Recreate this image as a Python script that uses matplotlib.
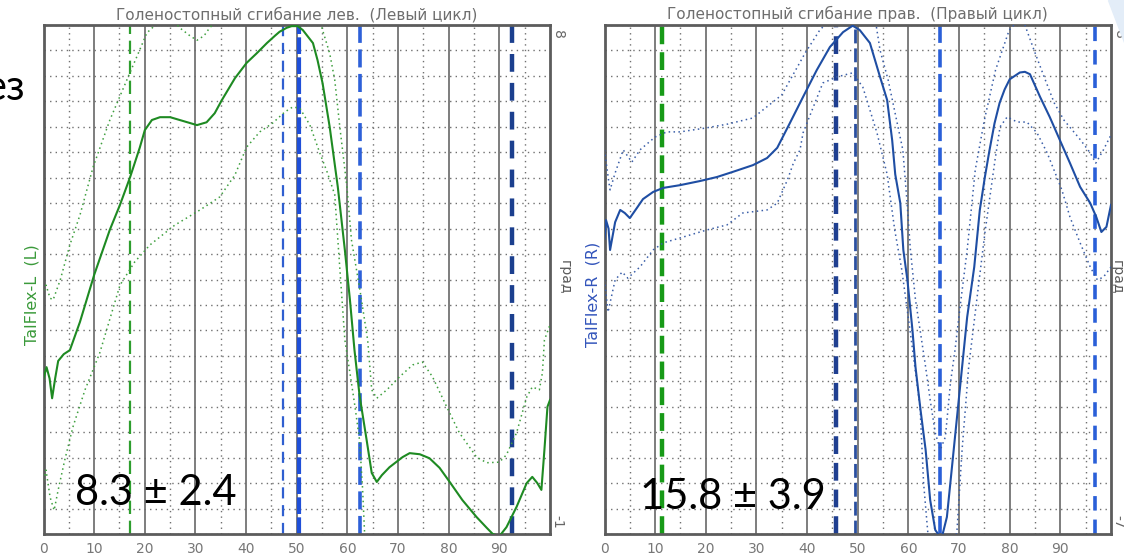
import matplotlib
matplotlib.use("Agg")
import matplotlib.pyplot as plt
import numpy as np

# ---- left (L) ankle flexion curve: mean and +/- SD -------------------------------
left_mean_x = [0, 0.6, 1.2, 1.7, 2.3, 2.9, 4.0, 5.2, 7.2, 10, 13.1, 15.1, 17.1, 19.0, 20.0, 21.4,
               23, 25, 26.9, 30.3, 32.2, 33.8, 35.2, 37.8, 40.1, 42.1, 44.1, 45.7, 46.6, 48.0,
               49.0, 50.2, 51.2, 53.2, 54.1, 55.1, 56.5, 58.1, 59.5, 60.5, 61.4, 62.4, 63.8,
               64.8, 65.8, 66.8, 68.3, 70.9, 72.3, 74.3, 76.2, 78.2, 80.2, 82.7, 85.5, 87.5,
               88.7, 90.0, 91.4, 93.4, 95.4, 96.5, 97.5, 98.3, 98.9, 99.5, 100]
left_mean_y = [1.75, 1.95, 1.75, 1.40, 1.75, 2.06, 2.18, 2.25, 2.75, 3.58, 4.38, 4.82, 5.31, 5.83,
               6.14, 6.32, 6.37, 6.37, 6.32, 6.23, 6.28, 6.44, 6.67, 7.06, 7.33, 7.50, 7.68, 7.81,
               7.88, 7.95, 7.98, 7.98, 7.91, 7.68, 7.38, 6.97, 6.20, 5.14, 4.02, 3.14, 2.25, 1.45,
               0.66, 0.08, -0.08, 0.04, 0.18, 0.36, 0.43, 0.41, 0.34, 0.17, -0.08, -0.40, -0.70,
               -0.89, -1.0, -1.04, -0.88, -0.52, -0.10, 0.01, -0.10, -0.22, 0.49, 1.25, 1.37]

left_upper_x = [0, 0.5, 1.3, 1.9, 3.3, 5.2, 7.2, 9.8, 13.1, 16.7, 19.0, 20.4, 21.6, 23, 25, 26.9,
                28.9, 30.3, 31.7, 32.8, 34.4, 40, 45, 50, 53, 55.1, 56.5, 57.5, 58.5, 59.9, 60.8,
                62.5, 64.0, 64.8, 65.8, 67.8, 70.3, 72.9, 74.8, 76.8, 79.6, 82.1, 85.5, 87.5,
                90.0, 91.4, 93.4, 95.4, 96.5, 97.9, 98.5, 98.9, 100]
left_upper_y = [3.31, 3.40, 3.17, 3.14, 3.49, 4.11, 4.64, 5.49, 6.32, 7.08, 7.56, 7.86, 7.96, 8.12,
                8.14, 7.95, 7.81, 7.73, 7.81, 7.95, 8.09, 8.9, 9.3, 9.4, 8.6, 7.91, 7.50, 7.03,
                6.20, 5.14, 4.20, 3.30, 2.43, 1.55, 1.40, 1.55, 1.78, 1.99, 2.04, 1.78, 1.25,
                0.79, 0.36, 0.26, 0.27, 0.40, 0.79, 1.42, 1.60, 1.55, 1.85, 2.43, 2.7]

left_lower_x = [0, 0.5, 1.3, 2.1, 2.9, 4.2, 5.8, 8.2, 11.1, 15.1, 18.0, 21.0, 25.9, 30.9, 34.8,
                37.8, 40.1, 42.7, 45.3, 47.6, 49.2, 50.6, 52.6, 54.5, 56.0, 57.5, 58.5, 59.5,
                60.5, 61.5, 62.4, 63.0, 63.4, 64, 70, 80, 90, 96, 100]
left_lower_y = [-0.05, 0.13, -0.35, -0.58, -0.22, 0.31, 0.89, 1.55, 2.20, 3.40, 3.81, 4.11, 4.46,
                4.73, 4.96, 5.35, 5.84, 6.11, 6.27, 6.46, 6.55, 6.53, 6.23, 5.75, 5.40, 5.00, 3.70,
                2.43, 1.85, 1.25, 0.66, -0.20, -1.0, -1.6, -2.0, -1.8, -2.4, -2.0, -1.3]

# ---- right (R) ankle flexion curve ------------------------------------------------
right_mean_x = [0, 0.3, 0.8, 1.1, 2.1, 3.1, 4.0, 5.0, 6.4, 7.6, 9.6, 11.6, 14.9, 18.8, 22.2,
                25.3, 29.3, 32.1, 34.1, 36.6, 39.2, 41.9, 44.5, 47.1, 49.0, 50.4, 52.4, 54.4,
                55.8, 56.8, 57.4, 58.4, 59.0, 59.8, 60.8, 61.4, 62.4, 63.4, 64.3, 65.3, 66.0,
                66.6, 67.6, 68.6, 69.6, 70.6, 71.6, 73.0, 74.1, 75.1, 76.0, 77.0, 78.0, 79.0,
                80.0, 82.0, 83.0, 84.0, 86.0, 87.9, 89.9, 91.9, 93.9, 95.9, 97.1, 98.1, 99.1, 100]
right_mean_y = [1.70, 2.25, 2.00, 1.37, 2.19, 2.55, 2.46, 2.31, 2.61, 2.87, 3.08, 3.20, 3.28, 3.40,
                3.52, 3.67, 3.87, 4.08, 4.38, 5.11, 5.88, 6.67, 7.35, 7.79, 7.98, 7.85, 7.47,
                6.47, 5.79, 4.60, 3.60, 2.75, 1.37, 0.49, -0.99, -2.08, -3.35, -4.52, -6.00,
                -6.88, -7.03, -7.10, -6.50, -5.03, -3.55, -2.08, -0.61, 0.87, 2.55, 3.52, 4.30,
                5.10, 5.70, 6.10, 6.40, 6.60, 6.62, 6.55, 5.88, 5.29, 4.61, 3.93, 3.23, 2.75,
                2.34, 1.90, 2.05, 2.70]

right_upper_x = [0, 0.8, 1.1, 2.1, 3.7, 5.4, 7.0, 10.0, 12.3, 14.9, 19.8, 24.3, 29.3, 35.0, 39.6,
                 42.5, 43.5, 47, 50, 53, 54.4, 56.0, 58.9, 59.7, 60.4, 61.4, 62.4, 63.4, 64.3,
                 65.3, 66.3, 67.3, 68.3, 69.2, 70.2, 71.6, 72.6, 73.2, 75.0, 77.2, 79.9, 81.5,
                 83.0, 84.8, 86.8, 88.8, 90.7, 94.0, 95.9, 97.0, 98.5, 100]
right_upper_y = [4.32, 3.43, 3.14, 3.64, 4.32, 3.96, 4.32, 4.70, 4.85, 4.85, 4.96, 5.08, 5.26, 5.94,
                 7.17, 7.85, 8.0, 9.0, 9.3, 8.6, 7.26, 6.38, 4.32, 2.84, 1.37, -0.10, -1.08, -2.08,
                 -3.05, -4.02, -4.52, -4.14, -2.55, -1.58, -0.31, 1.37, 2.84, 3.73, 5.20, 6.67,
                 7.85, 8.10, 8.0, 7.26, 6.47, 5.70, 5.20, 4.61, 4.23, 3.93, 4.32, 4.76]

right_lower_x = [0, 0.7, 2.1, 3.5, 4.6, 7.0, 9.6, 11.6, 15.5, 20.2, 24.2, 27.3, 32.1, 34.1, 36.1,
                 37.3, 38.6, 39.2, 43.1, 45.9, 49.0, 51.0, 53.8, 55.8, 57.3, 58.7, 60.5, 62.3,
                 63.0, 65, 67, 69.6, 70.6, 71.9, 73.5, 75.1, 77.1, 78.1, 79.5, 81.5, 83.4, 85.4,
                 87.4, 89.3, 90.3, 91.9, 93.9, 95.9, 97.3, 98.5, 100]
right_lower_y = [0.49, -0.46, 0.49, 0.72, 0.54, 0.87, 1.37, 1.58, 1.75, 1.96, 2.11, 2.46, 2.55,
                 2.75, 3.43, 3.93, 4.32, 4.82, 6.29, 6.47, 6.59, 6.17, 4.82, 3.60, 1.96, 0.78,
                 -1.20, -3.26, -5.5, -9.0, -9.5, -6.88, -4.52, -2.08, -0.10, 1.87, 4.02, 5.00,
                 5.29, 5.14, 5.14, 4.82, 4.23, 3.52, 3.14, 2.34, 1.58, 0.87, 0.49, 0.57, 0.87]

# gait events (% of cycle): position, colour, width, dash pattern
left_events = [(17.1, '#2e9e2e', 1.6, (6, 3)), (47.2, '#2f5fd0', 1.6, (5, 3)),
               (50.4, '#1f4fd8', 3.0, (4, 0.8)), (62.4, '#2d60d8', 2.6, (5, 1.8)),
               (92.4, '#1b3f8e', 3.2, (4, 2.5))]
right_events = [(11.4, '#179a17', 3.2, (4, 1.8)), (45.7, '#1f3f90', 3.2, (4, 2)),
                (49.4, '#2a4fa0', 2.0, (5, 1.8)), (66.2, '#2a5fd8', 2.6, (5, 1.8)),
                (96.9, '#2a5fd8', 2.6, (4, 2.5))]

x_ticks = [0, 10, 20, 30, 40, 50, 60, 70, 80, 90]


def setup_panel(ax, ymin, ymax, title, ylabel, ylabel_color, unit_x):
    ax.set_xlim(0, 100)
    ax.set_ylim(ymin, ymax)
    ax.set_xticks(x_ticks)
    ax.set_xticks(np.arange(5, 100, 10), minor=True)
    ax.set_yticks(np.linspace(ymin, ymax, 21))
    ax.set_yticklabels([])
    ax.tick_params(which='both', length=0)
    ax.tick_params(axis='x', labelsize=10, labelcolor='#777777', pad=6)
    ax.grid(which='major', axis='x', color='#5a5a5a', lw=1.1, ls='-')
    ax.grid(which='minor', axis='x', color='#707070', lw=1.0, ls=(0, (1, 3)))
    ax.grid(which='major', axis='y', color='#707070', lw=1.0, ls=(0, (1, 3)))
    ax.set_axisbelow(True)
    for sp in ax.spines.values():
        sp.set_color('#5c5c5c')
        sp.set_linewidth(2)
    ax.set_title(title, fontsize=11, color='#6e6e6e', pad=4)
    ax.text(-0.022, 0.47, ylabel, transform=ax.transAxes, rotation=90, color=ylabel_color,
            fontsize=11.5, ha='center', va='center')
    ax.text(1.015, 0.99, f'{ymax:g}', transform=ax.transAxes, rotation=-90, color='#666666',
            fontsize=10, ha='center', va='top')
    ax.text(1.015, 0.01, f'{ymin:g}', transform=ax.transAxes, rotation=-90, color='#666666',
            fontsize=10, ha='center', va='bottom')
    ax.text(unit_x, 0.505, 'град', transform=ax.transAxes, rotation=-90, color='#5a5a5a',
            fontsize=10, ha='center', va='center')


fig = plt.figure(figsize=(11.24, 5.58), dpi=100)
ax1 = fig.add_axes([43.5 / 1124, 24 / 558, 506.5 / 1124, 509 / 558])
ax2 = fig.add_axes([604.5 / 1124, 24 / 558, 506.5 / 1124, 509 / 558])

setup_panel(ax1, -1, 8, 'Голеностопный сгибание лев.  (Левый цикл)', 'TalFlex-L  (L)',
            '#3a9a3a', 1.03)
setup_panel(ax2, -7, 8, 'Голеностопный сгибание прав.  (Правый цикл)', 'TalFlex-R  (R)',
            '#3355bb', 1.012)

for x, c, w, d in left_events:
    ax1.axvline(x, color=c, lw=w, dashes=d, zorder=2)
for x, c, w, d in right_events:
    ax2.axvline(x, color=c, lw=w, dashes=d, zorder=2)

ax1.plot(left_upper_x, left_upper_y, color='#3f9f3f', lw=1.1, ls=(0, (1, 2.2)), zorder=3)
ax1.plot(left_lower_x, left_lower_y, color='#3f9f3f', lw=1.1, ls=(0, (1, 2.2)), zorder=3)
ax1.plot(left_mean_x, left_mean_y, color='#1e8a22', lw=1.5, zorder=4)

ax2.plot(right_upper_x, right_upper_y, color='#3a5ea8', lw=1.1, ls=(0, (1, 2.2)), zorder=3)
ax2.plot(right_lower_x, right_lower_y, color='#3a5ea8', lw=1.1, ls=(0, (1, 2.2)), zorder=3)
ax2.plot(right_mean_x, right_mean_y, color='#1f4ea3', lw=1.5, zorder=4)

# mean +/- SD annotations
fig.text(75 / 1124, 1 - 493 / 558, '8.3 ± 2.4', fontsize=30, family='Lato', color='black',
         va='center', ha='left')
fig.text(640 / 1124, 1 - 497 / 558, '15.8 ± 3.9', fontsize=30, family='Lato', color='black',
         va='center', ha='left')
fig.text(25 / 1124, 1 - 88 / 558, 'ез', fontsize=30, family='Lato', color='black',
         va='center', ha='right')

# pale slide decoration in the top-right corner
fig.patches.append(plt.Polygon([(1108 / 1124, 1.0), (1.0, 1.0), (1.0, 1 - 42 / 558)],
                               closed=True, transform=fig.transFigure, color='#e3edf8',
                               zorder=0))

fig.savefig('out.png', dpi=100)
